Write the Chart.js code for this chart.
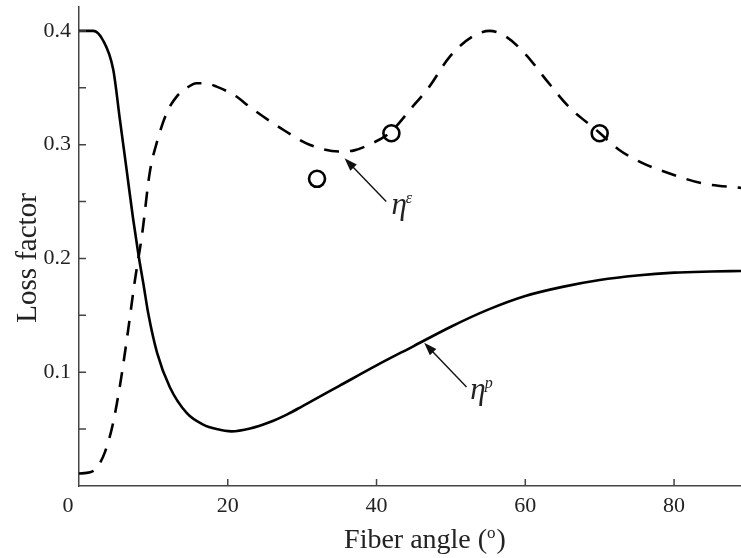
<!DOCTYPE html>
<html>
<head>
<meta charset="utf-8">
<script src="https://cdn.jsdelivr.net/npm/chart.js@4.4.0/dist/chart.umd.min.js"></script>
<style>
  html, body { margin: 0; padding: 0; background: #fff; }
  #wrap { width: 741px; height: 558px; }
</style>
</head>
<body>
<div id="wrap"><canvas id="chart"></canvas></div>
<script>
// eta^p (solid)
const angleP = [0, 1.9, 3.2, 4.6, 5.5, 6.4, 7.25, 8.0, 8.7, 9.3, 10.5, 12.2, 14.5, 16.7, 18.5, 20.5, 23, 25.6, 28, 30, 35, 40, 45, 50, 55, 60, 65, 70, 75, 80, 85, 89];
const lossP = [0.4, 0.4, 0.392, 0.366, 0.322, 0.278, 0.236, 0.203, 0.176, 0.152, 0.117, 0.087, 0.064, 0.054, 0.050, 0.048, 0.0505, 0.056, 0.063, 0.070, 0.088, 0.106, 0.123, 0.140, 0.155, 0.167, 0.175, 0.181, 0.185, 0.1875, 0.1885, 0.189];

// eta^epsilon (dashed)
const angleE = [0, 1.5, 2.5, 3.5, 4.5, 5.5, 6.5, 7.5, 8.5, 9.5, 10.6, 11.8, 13.1, 14.5, 15.8, 17, 18.5, 21, 23, 27, 31, 35, 37, 39, 41.7, 44.8, 47.1, 49.8, 52.9, 55.2, 57.4, 60.1, 62.8, 65.9, 69.9, 72.5, 75.7, 79.7, 83.8, 89];
const lossE = [0.011, 0.012, 0.017, 0.030, 0.053, 0.088, 0.132, 0.180, 0.222, 0.275, 0.305, 0.328, 0.342, 0.350, 0.354, 0.354, 0.351, 0.343, 0.333, 0.315, 0.300, 0.294, 0.295, 0.300, 0.310, 0.333, 0.351, 0.377, 0.395, 0.400, 0.395, 0.379, 0.357, 0.333, 0.311, 0.296, 0.284, 0.274, 0.266, 0.262];

// measured points (circles)
const expAngle = [32, 42, 70];
const expLoss = [0.27, 0.31, 0.31];

const xTicks = [0, 20, 40, 60, 80];
const yTicks = [0.05, 0.1, 0.15, 0.2, 0.25, 0.3, 0.35, 0.4];
const yLabels = [0.1, 0.2, 0.3, 0.4];

// arrow labels: [tipX, tipY, tailX, tailY, textX, textY, sup]
const labelE = [35.7, 0.288, 41.3, 0.250, 42.0, 0.239, 'ε'];
const labelP = [46.4, 0.126, 52.1, 0.087, 52.6, 0.0765, 'p'];

const AXIS = '#444';
const FONT = '"Liberation Serif", "Times New Roman", serif';

const toXY = (xs, ys) => xs.map((v, i) => ({ x: v, y: ys[i] }));

function arrow(ctx, x1, y1, x2, y2) {
  // from tail (x1,y1) to tip (x2,y2)
  const a = Math.atan2(y2 - y1, x2 - x1);
  const len = 13, half = 4.5;
  ctx.beginPath();
  ctx.moveTo(x1, y1);
  ctx.lineTo(x2 - Math.cos(a) * len * 0.8, y2 - Math.sin(a) * len * 0.8);
  ctx.stroke();
  ctx.beginPath();
  ctx.moveTo(x2, y2);
  ctx.lineTo(x2 - Math.cos(a) * len + Math.sin(a) * half, y2 - Math.sin(a) * len - Math.cos(a) * half);
  ctx.lineTo(x2 - Math.cos(a) * len - Math.sin(a) * half, y2 - Math.sin(a) * len + Math.cos(a) * half);
  ctx.closePath();
  ctx.fill();
}

const decor = {
  id: 'decor',
  afterDraw(chart) {
    const { ctx, scales: { x, y } } = chart;
    ctx.save();

    // inward tick marks
    ctx.strokeStyle = AXIS;
    ctx.lineWidth = 1.5;
    ctx.beginPath();
    x.ticks.forEach(t => {
      if (t.value === 0) return;
      const px = x.getPixelForValue(t.value);
      ctx.moveTo(px, x.top);
      ctx.lineTo(px, x.top - 7);
    });
    y.ticks.forEach(t => {
      const py = y.getPixelForValue(t.value);
      ctx.moveTo(y.right, py);
      ctx.lineTo(y.right + 7, py);
    });
    ctx.stroke();

    // axis titles
    ctx.fillStyle = '#222';
    ctx.textBaseline = 'alphabetic';
    const t1 = 'Fiber angle (', t3 = ')';
    ctx.font = '28px ' + FONT;
    const w1 = ctx.measureText(t1).width, w3 = ctx.measureText(t3).width;
    ctx.font = '17px ' + FONT;
    const w2 = ctx.measureText('o').width + 1;
    const sx = 425 - (w1 + w2 + w3) / 2;
    const by = 548;
    ctx.font = '28px ' + FONT;
    ctx.textAlign = 'left';
    ctx.fillText(t1, sx, by);
    ctx.font = '17px ' + FONT;
    ctx.fillText('o', sx + w1, by - 10);
    ctx.font = '28px ' + FONT;
    ctx.fillText(t3, sx + w1 + w2, by);

    ctx.save();
    ctx.translate(36, 258);
    ctx.rotate(-Math.PI / 2);
    ctx.textAlign = 'center';
    ctx.font = '29px ' + FONT;
    ctx.fillText('Loss factor', 0, 0);
    ctx.restore();

    // arrows and curve labels
    ctx.strokeStyle = '#111';
    ctx.fillStyle = '#111';
    ctx.lineWidth = 1.4;
    [labelE, labelP].forEach(l => {
      const tipX = x.getPixelForValue(l[0]), tipY = y.getPixelForValue(l[1]);
      const tailX = x.getPixelForValue(l[2]), tailY = y.getPixelForValue(l[3]);
      arrow(ctx, tailX, tailY, tipX, tipY);
      const tx = x.getPixelForValue(l[4]), ty = y.getPixelForValue(l[5]);
      ctx.fillStyle = '#222';
      ctx.textAlign = 'left';
      ctx.font = 'italic 31px ' + FONT;
      ctx.fillText('η', tx, ty);
      const w = ctx.measureText('η').width;
      ctx.font = 'italic 16px ' + FONT;
      ctx.fillText(l[6], tx + w - 1, ty - 11);
      ctx.fillStyle = '#111';
    });
    ctx.restore();
  }
};

new Chart(document.getElementById('chart'), {
  type: 'scatter',
  data: {
    datasets: [
      {
        label: 'eta p',
        data: toXY(angleP, lossP),
        showLine: true,
        borderColor: '#000',
        borderWidth: 2.6,
        pointRadius: 0,
        cubicInterpolationMode: 'monotone'
      },
      {
        label: 'eta e',
        data: toXY(angleE, lossE),
        showLine: true,
        borderColor: '#000',
        borderWidth: 2.6,
        borderDash: [15, 11],
        pointRadius: 0,
        cubicInterpolationMode: 'monotone'
      },
      {
        label: 'measured',
        data: toXY(expAngle, expLoss),
        showLine: false,
        pointRadius: 8,
        pointBorderWidth: 2.6,
        pointBorderColor: '#000',
        pointBackgroundColor: 'rgba(0,0,0,0)'
      }
    ]
  },
  options: {
    responsive: true,
    maintainAspectRatio: false,
    animation: false,
    layout: { autoPadding: false, padding: { top: 7, right: 0, left: 0, bottom: 0 } },
    plugins: {
      legend: { display: false },
      tooltip: { enabled: false }
    },
    scales: {
      x: {
        type: 'linear',
        min: 0,
        max: 89,
        afterBuildTicks: s => { s.ticks = xTicks.map(v => ({ value: v })); },
        afterFit: s => { s.height = 72; s.paddingLeft = 0; s.paddingRight = 0; },
        grid: { display: true, drawOnChartArea: false, drawTicks: false },
        border: { display: true, color: AXIS, width: 1.5 },
        ticks: {
          padding: 7,
          color: '#222',
          font: { family: FONT, size: 22 },
          maxRotation: 0,
          callback: v => v === 0 ? '0\u2003' : String(v)
        }
      },
      y: {
        type: 'linear',
        min: 0,
        max: 0.421,
        afterBuildTicks: s => { s.ticks = yTicks.map(v => ({ value: v })); },
        afterFit: s => { s.width = 79; s.paddingTop = 0; s.paddingBottom = 0; },
        grid: { display: true, drawOnChartArea: false, drawTicks: false },
        border: { display: true, color: AXIS, width: 1.5 },
        ticks: {
          padding: 8,
          color: '#222',
          font: { family: FONT, size: 22 },
          callback: v => yLabels.some(l => Math.abs(l - v) < 1e-6) ? v.toFixed(1) : ''
        }
      }
    }
  },
  plugins: [decor]
});
</script>
</body>
</html>
